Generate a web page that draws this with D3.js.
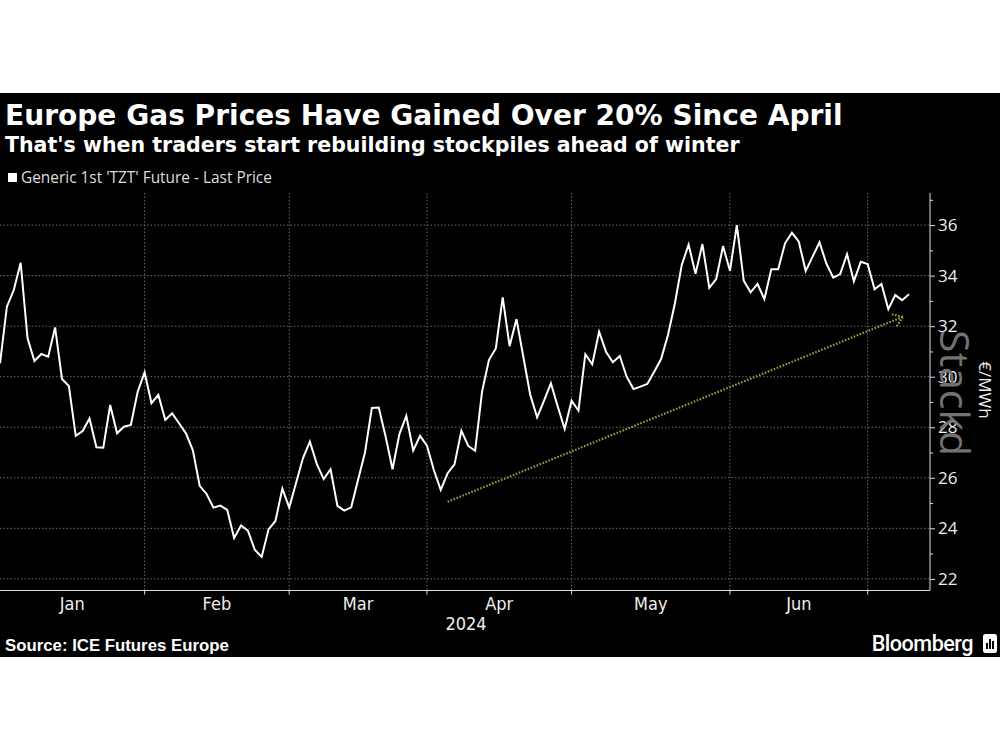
<!DOCTYPE html>
<html><head><meta charset="utf-8">
<script src="https://cdn.jsdelivr.net/npm/d3@7/dist/d3.min.js"></script>
<style>html,body{margin:0;padding:0;background:#fff;}svg{display:block;}</style>
</head><body>
<script>
// ---- data (one value per trading day, Jan 3 .. Jul 9 2024) ----
const prices = [
30.53,32.77,33.43,34.51,31.52,30.62,30.90,30.79,31.95,29.91,
29.63,27.66,27.85,28.35,27.21,27.19,28.88,27.76,28.02,28.09,
29.41,30.17,28.95,29.28,28.29,28.55,28.16,27.76,27.10,25.68,
25.36,24.82,24.90,24.73,23.62,24.11,23.91,23.15,22.87,23.96,
24.29,25.57,24.82,25.80,26.78,27.43,26.55,25.95,26.34,24.89,
24.70,24.83,25.92,27.00,28.76,28.78,27.63,26.34,27.73,28.45,
27.08,27.66,27.27,26.31,25.52,26.18,26.53,27.86,27.26,27.07,
29.41,30.66,31.12,33.14,31.21,32.28,30.78,29.28,28.39,29.05,
29.74,28.81,27.93,29.05,28.66,30.89,30.49,31.78,30.99,30.57,
30.82,30.00,29.51,29.61,29.71,30.20,30.70,31.65,32.90,34.42,
35.23,34.07,35.25,33.52,33.86,35.17,34.19,36.00,33.80,33.34,
33.67,33.07,34.25,34.25,35.28,35.70,35.34,34.18,34.75,35.32,
34.48,33.92,34.06,34.85,33.78,34.55,34.46,33.46,33.67,32.67,
33.23,33.03,33.26
];
const monthLabels = ["Jan","Feb","Mar","Apr","May","Jun"];
const monthStartIdx = [0,21,42,62,83,106,126];   // trading-day index of first day of each month (Jan..Jul)
const yTicksMajor = [22,24,26,28,30,32,34,36];
const yTicksMinor = [23,25,27,29,31,33,35,37];
const yearLabel = "2024";
const arrowFrom = [65, 25.05];    // [trading-day index, value]
const arrowTo = [131.1, 32.37];

const title = "Europe Gas Prices Have Gained Over 20% Since April";
const subtitle = "That's when traders start rebuilding stockpiles ahead of winter";
const legendLabel = "Generic 1st 'TZT' Future - Last Price";
const source = "Source: ICE Futures Europe";
const unitLabel = "€/MWh";

// ---- layout ----
const W = 1000, H = 750;
const svg = d3.select("body").append("svg").attr("width", W).attr("height", H);
svg.append("rect").attr("x",0).attr("y",93).attr("width",W).attr("height",564).attr("fill","#000");

const plotL = 0, plotR = 930, plotT = 193, plotB = 590.5;
const x = d3.scaleLinear().domain([0, 135.05]).range([plotL, plotR]);
const y = d3.scaleLinear().domain([21.54, 37.27]).range([plotB, plotT]);

function fitText(sel, target) {
  const n = sel.node();
  const w = n.getComputedTextLength();
  const fs = parseFloat(sel.attr("font-size"));
  sel.attr("font-size", fs * target / w);
}

// titles
const t1 = svg.append("text").attr("x",5).attr("y",125).attr("fill","#fff")
  .attr("font-family","DejaVu Sans").attr("font-weight","bold").attr("font-size",26).text(title);
fitText(t1, 838);
const t2 = svg.append("text").attr("x",5).attr("y",152).attr("fill","#fff")
  .attr("font-family","DejaVu Sans").attr("font-weight","bold").attr("font-size",20).text(subtitle);
fitText(t2, 735);

// legend
svg.append("rect").attr("x",8).attr("y",173).attr("width",9).attr("height",9).attr("fill","#fff");
const lg = svg.append("text").attr("x",21).attr("y",183).attr("fill","#ddd")
  .attr("font-family","Open Sans").attr("font-size",14).text(legendLabel);
fitText(lg, 251);

// gridlines
const grid = svg.append("g");
grid.selectAll("line.h").data(yTicksMajor).join("line")
  .attr("x1",plotL).attr("x2",plotR).attr("y1",d=>y(d)).attr("y2",d=>y(d))
  .attr("stroke","#6a6a6a").attr("stroke-width",1).attr("stroke-dasharray","1.5,2");
grid.selectAll("line.v").data(monthStartIdx.slice(1)).join("line")
  .attr("x1",d=>x(d)).attr("x2",d=>x(d)).attr("y1",plotT).attr("y2",plotB)
  .attr("stroke","#6a6a6a").attr("stroke-width",1).attr("stroke-dasharray","1.5,2");

// x axis
svg.append("line").attr("x1",plotL).attr("x2",plotR).attr("y1",plotB).attr("y2",plotB)
  .attr("stroke","#ddd").attr("stroke-width",1.2);
svg.append("g").selectAll("line").data(monthStartIdx.slice(1)).join("line")
  .attr("x1",d=>x(d)).attr("x2",d=>x(d)).attr("y1",plotB).attr("y2",plotB+4)
  .attr("stroke","#ddd").attr("stroke-width",1);
svg.append("g").selectAll("text").data(monthLabels).join("text")
  .attr("x",(d,i)=>(x(monthStartIdx[i])+x(monthStartIdx[i+1]))/2)
  .attr("y",610).attr("text-anchor","middle").attr("fill","#eee")
  .attr("font-family","Liberation Sans Narrow, DejaVu Sans Condensed, sans-serif").attr("font-size",18)
  .text(d=>d);
svg.append("text").attr("x",466).attr("y",630).attr("text-anchor","middle").attr("fill","#eee")
  .attr("font-family","Liberation Sans Narrow, DejaVu Sans Condensed, sans-serif").attr("font-size",18).text(yearLabel);

// y axis
const yAxis = d3.axisRight(y).tickValues(yTicksMajor).tickSize(5).tickPadding(3).tickFormat(d3.format("d"));
const ya = svg.append("g").attr("transform",`translate(${plotR},0)`).call(yAxis);
ya.select(".domain").attr("stroke","#ddd").attr("d",`M0,${plotB}V${plotT}`);
ya.selectAll(".tick line").attr("stroke","#ddd");
ya.selectAll(".tick text").attr("fill","#eee").attr("font-family","Open Sans").attr("font-size",17);
const yMinor = d3.axisRight(y).tickValues(yTicksMinor).tickSize(3).tickFormat("");
const ym = svg.append("g").attr("transform",`translate(${plotR},0)`).call(yMinor);
ym.select(".domain").remove();
ym.selectAll(".tick line").attr("stroke","#ddd");

// watermark + unit
svg.append("text").attr("transform","translate(940,393) rotate(90)").attr("text-anchor","middle")
  .attr("fill","#727272").attr("font-family","Open Sans").attr("font-size",41).text("Stackd");
svg.append("text").attr("transform","translate(979,390) rotate(90)").attr("text-anchor","middle")
  .attr("fill","#eee").attr("font-family","Open Sans").attr("font-size",17).text(unitLabel);

// arrow annotation
const ax0 = x(arrowFrom[0]), ay0 = y(arrowFrom[1]), ax1 = x(arrowTo[0]), ay1 = y(arrowTo[1]);
const green = "#84a83e";
svg.append("line").attr("x1",ax0).attr("y1",ay0).attr("x2",ax1).attr("y2",ay1)
  .attr("stroke",green).attr("stroke-width",2.2).attr("stroke-dasharray","1.6,1.6");
const ang = Math.atan2(ay0-ay1, ax0-ax1);
[-0.61, 0.61].forEach(a=>{
  svg.append("line").attr("x1",ax1).attr("y1",ay1)
    .attr("x2",ax1+12*Math.cos(ang+a)).attr("y2",ay1+12*Math.sin(ang+a))
    .attr("stroke",green).attr("stroke-width",2.2).attr("stroke-dasharray","1.6,1.6");
});

// price line
svg.append("path").datum(prices)
  .attr("d", d3.line().x((d,i)=>x(i)).y(d=>y(d)))
  .attr("fill","none").attr("stroke","#fff").attr("stroke-width",2).attr("stroke-linejoin","miter");

// footer
const src = svg.append("text").attr("x",5).attr("y",651).attr("fill","#fff")
  .attr("font-family","Liberation Sans").attr("font-weight","bold").attr("font-size",15).text(source);
fitText(src, 224);
const bb = svg.append("text").attr("x",973).attr("y",651).attr("text-anchor","end").attr("fill","#fff")
  .attr("font-family","Roboto").attr("font-weight","500").attr("font-size",20).attr("letter-spacing",-0.5).text("Bloomberg");
fitText(bb, 101);
svg.append("rect").attr("x",983).attr("y",634).attr("width",14).attr("height",19).attr("rx",2.5).attr("fill","#fff");
[[986,643,2,6],[989,639,2,10],[992,641,2,8]].forEach(r=>{
  svg.append("rect").attr("x",r[0]).attr("y",r[1]).attr("width",r[2]).attr("height",r[3]).attr("fill","#000");
});
</script>
</body></html>
